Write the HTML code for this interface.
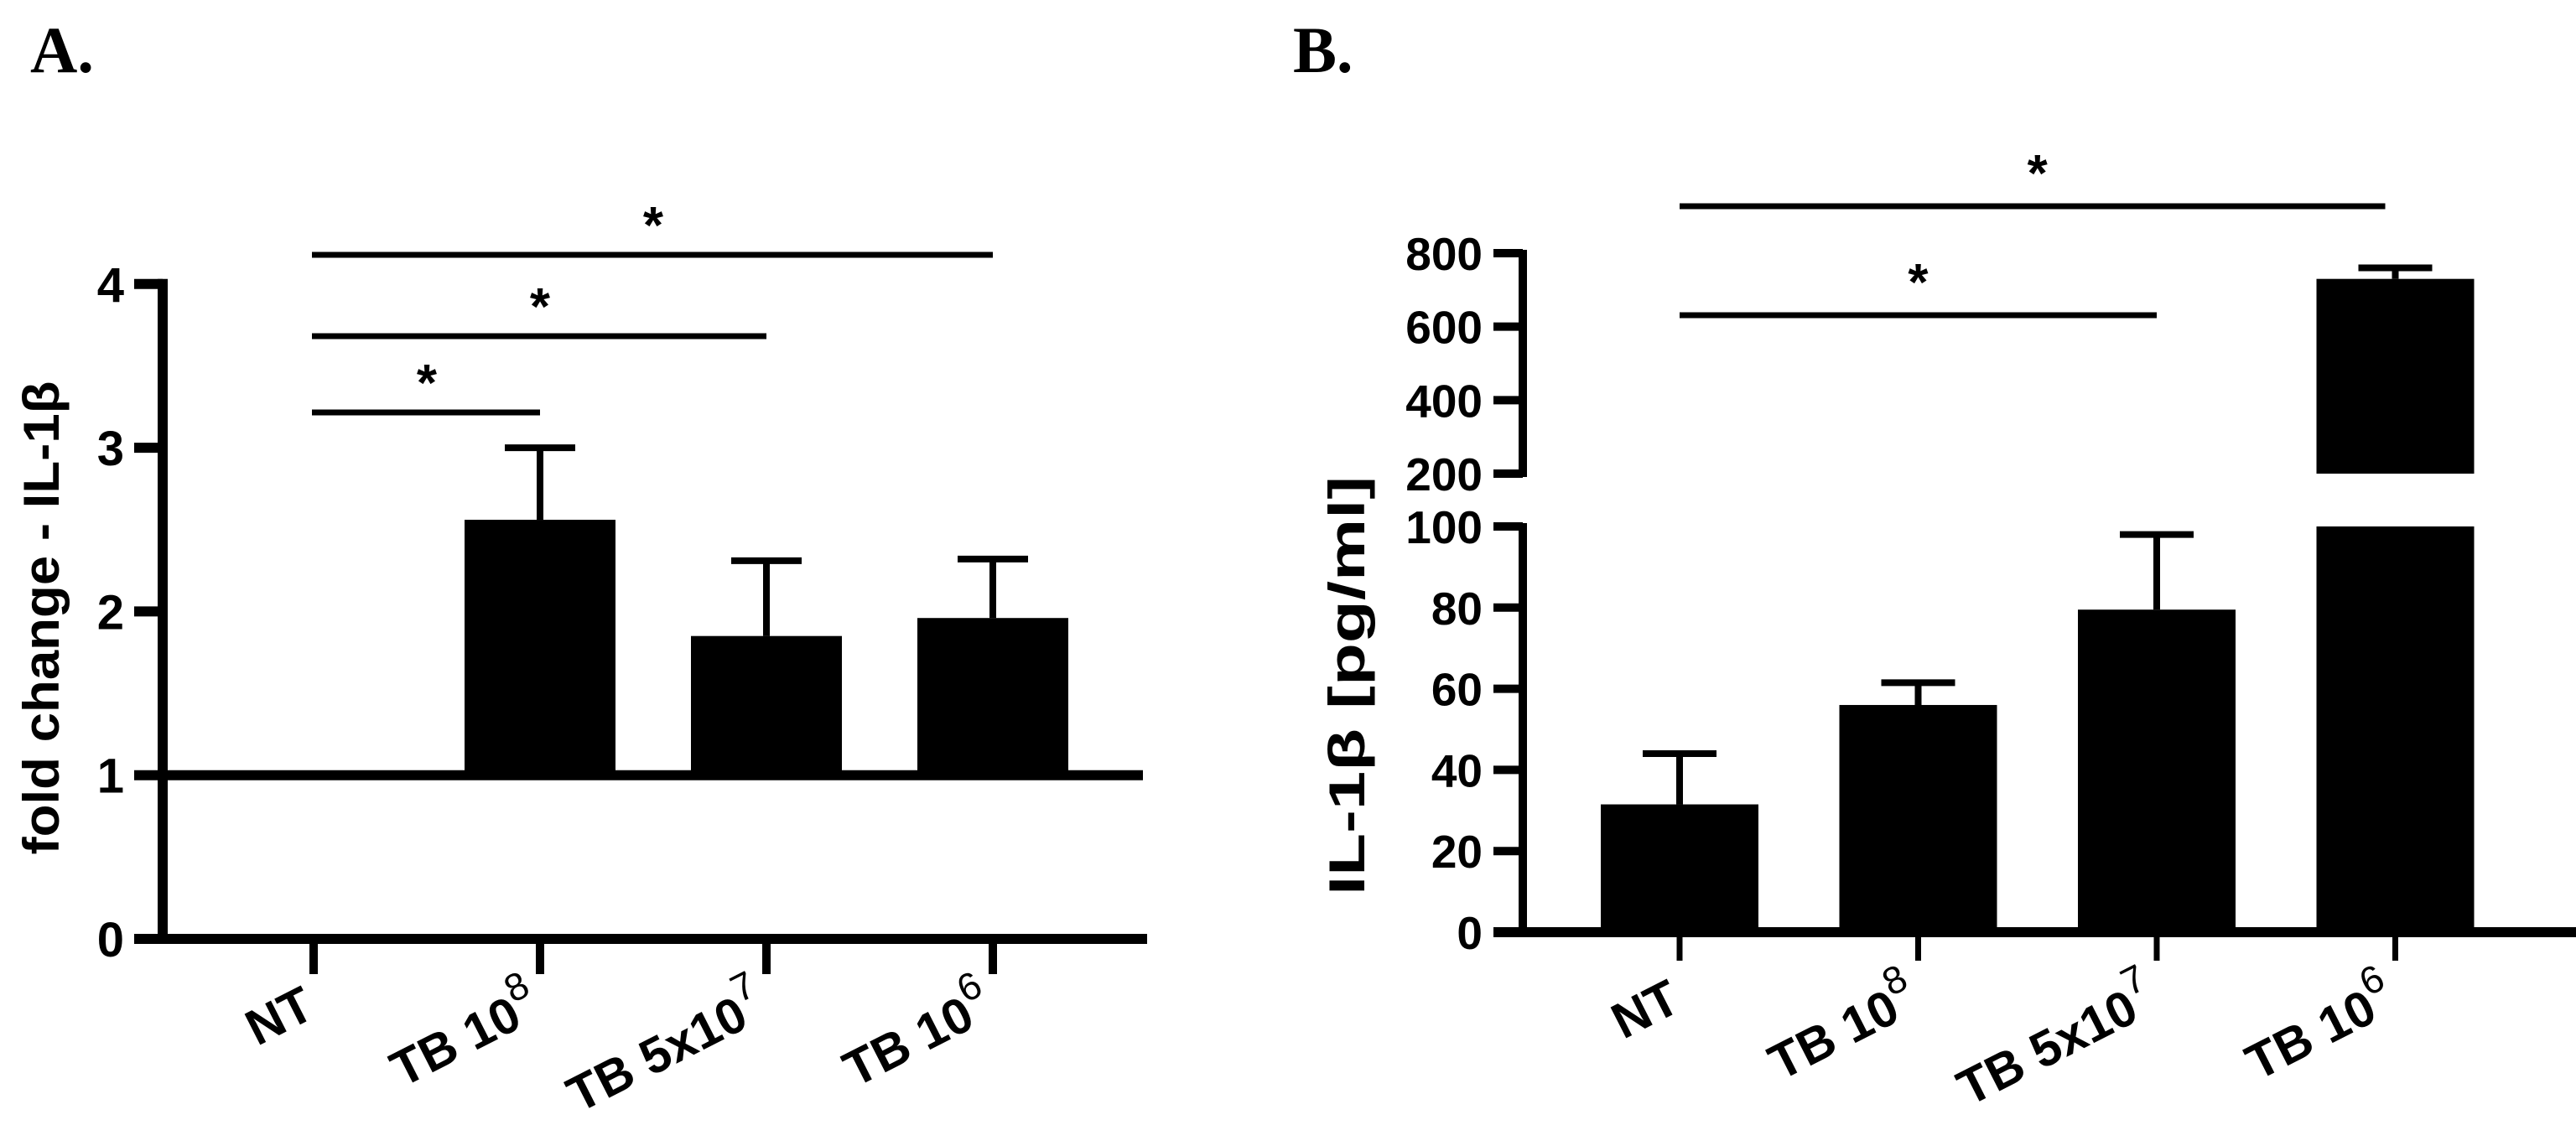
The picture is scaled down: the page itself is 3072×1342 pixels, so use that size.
<!DOCTYPE html>
<html><head><meta charset="utf-8"><style>
html,body{margin:0;padding:0;background:#fff;}
svg{display:block;}
text{font-family:"Liberation Sans",Arial,sans-serif;font-weight:bold;fill:#000;}
.panel{font-family:"Liberation Serif","Times New Roman",serif;}
</style></head><body>
<svg id="fig" width="3072" height="1342" viewBox="0 0 3072 1342" xmlns="http://www.w3.org/2000/svg">
<text class="panel" x="36" y="86" font-size="78">A.</text>
<text class="panel" x="1542" y="86" font-size="78">B.</text>
<g id="chartA"></g>
<g id="chartB"></g>
</svg>
<script>
// Panel A data
const catsA = ["NT", "TB 10|8", "TB 5x10|7", "TB 10|6"];
const meansA = [1, 2.56, 1.85, 1.96];
const errsA = [0, 0.44, 0.46, 0.36];
const ticksA = [0, 1, 2, 3, 4];
const sigA = [[0, 1, 492], [0, 2, 401], [0, 3, 304]];
// Panel B data
const catsB = ["NT", "TB 10|8", "TB 5x10|7", "TB 10|6"];
const meansB = [31.5, 56, 79.5, 730];
const errsB = [12.5, 5.5, 18.5, 30];
const ticksBlow = [0, 20, 40, 60, 80, 100];
const ticksBhigh = [200, 400, 600, 800];
const sigB = [[0, 3, 246], [0, 2, 376]];

const NS = "http://www.w3.org/2000/svg";
function mk(parent, tag, attrs, txt) {
  const e = document.createElementNS(NS, tag);
  for (const k in attrs) e.setAttribute(k, attrs[k]);
  if (txt !== undefined) e.textContent = txt;
  parent.appendChild(e);
  return e;
}
function catLabel(g, label, x, y) {
  const parts = label.split("|");
  const t = mk(g, "text", {x: x, y: y, "font-size": 60, "text-anchor": "end", transform: `rotate(-27 ${x} ${y})`});
  
  
  mk(t, "tspan", {}, parts[0]);
  if (parts[1]) {
    mk(t, "tspan", {dy: -30, "font-size": 46, "font-weight": "normal"}, parts[1]);
  }
  return t;
}

// ---------- Panel A ----------
(function () {
  const g = document.getElementById("chartA");
  const axX = 194, y0 = 1120, pxu = 195.3;
  const yA = v => y0 - v * pxu;
  const xA = i => 374 + i * 270;
  const bw = 180;
  meansA.forEach((m, i) => {
    if (m > 1) {
      const r = mk(g, "rect", {x: xA(i) - bw / 2, y: yA(m), width: bw, height: yA(1) - yA(m), fill: "#000"});
      
      
    }
    if (errsA[i] > 0) {
      const top = yA(m + errsA[i]);
      const e = mk(g, "path", {d: `M${xA(i)} ${yA(m)}V${top}M${xA(i) - 42} ${top}H${xA(i) + 42}`, stroke: "#000", "stroke-width": 8, fill: "none"});
      
      
    }
  });
  const ref = mk(g, "line", {x1: axX, x2: 1363, y1: yA(1), y2: yA(1), stroke: "#000", "stroke-width": 12});
  
  
  const ya = mk(g, "line", {x1: axX, x2: axX, y1: yA(4) - 6, y2: y0 + 6, stroke: "#000", "stroke-width": 12});
  
  
  const xa = mk(g, "line", {x1: 162, x2: 1368, y1: y0, y2: y0, stroke: "#000", "stroke-width": 12});
  
  
  ticksA.forEach(v => {
    mk(g, "line", {x1: 160, x2: axX, y1: yA(v), y2: yA(v), stroke: "#000", "stroke-width": 12});
    const t = mk(g, "text", {x: 148, y: yA(v) + 21, "font-size": 58, "text-anchor": "end"}, v);
    
    
  });
  catsA.forEach((c, i) => {
    mk(g, "line", {x1: xA(i), x2: xA(i), y1: y0, y2: y0 + 42, stroke: "#000", "stroke-width": 10});
    catLabel(g, c, xA(i) + 4, 1212);
  });
  sigA.forEach(s => {
    const l = mk(g, "line", {x1: xA(s[0]) - 2, x2: xA(s[1]), y1: s[2], y2: s[2], stroke: "#000", "stroke-width": 7});
    
    
    const st = mk(g, "text", {x: (xA(s[0]) + xA(s[1])) / 2, y: s[2] - 14, "font-size": 62, "text-anchor": "middle"}, "*");
    
    
  });
  const yt = mk(g, "text", {x: 0, y: 0, "font-size": 60, "text-anchor": "middle", transform: "translate(70 737) rotate(-90)", textLength: 565, lengthAdjust: "spacingAndGlyphs"}, "fold change - IL-1β");
  
  
})();

// ---------- Panel B ----------
(function () {
  const g = document.getElementById("chartB");
  const axX = 1816, y0 = 1112, yl100 = 628, yh200 = 565, yh800 = 302;
  const yLow = v => y0 - v * (y0 - yl100) / 100;
  const yHigh = v => yh200 - (v - 200) * (yh200 - yh800) / 600;
  const xB = i => 2003 + i * 284.5;
  const bw = 188;
  meansB.forEach((m, i) => {
    const x = xB(i);
    const topLow = yLow(Math.min(m, 100));
    const r = mk(g, "rect", {x: x - bw / 2, y: topLow, width: bw, height: y0 - topLow, fill: "#000"});
    
    
    let topY = topLow, errTop;
    if (m > 200) {
      const r2 = mk(g, "rect", {x: x - bw / 2, y: yHigh(m), width: bw, height: yh200 - yHigh(m), fill: "#000"});
      
      
      topY = yHigh(m);
      errTop = yHigh(m + errsB[i]);
    } else {
      errTop = yLow(m + errsB[i]);
    }
    const e = mk(g, "path", {d: `M${x} ${topY}V${errTop}M${x - 44} ${errTop}H${x + 44}`, stroke: "#000", "stroke-width": 8, fill: "none"});
    
    
  });
  const ya1 = mk(g, "line", {x1: axX, x2: axX, y1: yl100 - 4, y2: y0 + 6, stroke: "#000", "stroke-width": 10});
  
  
  const ya2 = mk(g, "line", {x1: axX, x2: axX, y1: yh800 - 4, y2: yh200 + 4, stroke: "#000", "stroke-width": 10});
  
  
  const xa = mk(g, "line", {x1: 1781, x2: 3072, y1: y0, y2: y0, stroke: "#000", "stroke-width": 12});
  
  
  ticksBlow.forEach(v => {
    mk(g, "line", {x1: 1781, x2: axX, y1: yLow(v), y2: yLow(v), stroke: "#000", "stroke-width": 10});
    const t = mk(g, "text", {x: 1768, y: yLow(v) + 20, "font-size": 55, "text-anchor": "end"}, v);
    
    
  });
  ticksBhigh.forEach(v => {
    mk(g, "line", {x1: 1781, x2: axX, y1: yHigh(v), y2: yHigh(v), stroke: "#000", "stroke-width": 10});
    const t = mk(g, "text", {x: 1768, y: yHigh(v) + 20, "font-size": 55, "text-anchor": "end"}, v);
    
    
  });
  catsB.forEach((c, i) => {
    mk(g, "line", {x1: xB(i), x2: xB(i), y1: y0, y2: y0 + 34, stroke: "#000", "stroke-width": 7});
    catLabel(g, c, xB(i) + 4, 1204);
  });
  sigB.forEach(s => {
    const l = mk(g, "line", {x1: xB(s[0]), x2: xB(s[1]) - (s[1] === 3 ? 12 : 0), y1: s[2], y2: s[2], stroke: "#000", "stroke-width": 7});
    
    
    const st = mk(g, "text", {x: (xB(s[0]) + xB(s[1])) / 2, y: s[2] - 18, "font-size": 62, "text-anchor": "middle"}, "*");
    
    
  });
  const yt = mk(g, "text", {x: 0, y: 0, "font-size": 60, "text-anchor": "middle", transform: "translate(1627 818) rotate(-90)", textLength: 500, lengthAdjust: "spacingAndGlyphs"}, "IL-1β  [pg/ml]");
  
  
})();
</script>
</body></html>
